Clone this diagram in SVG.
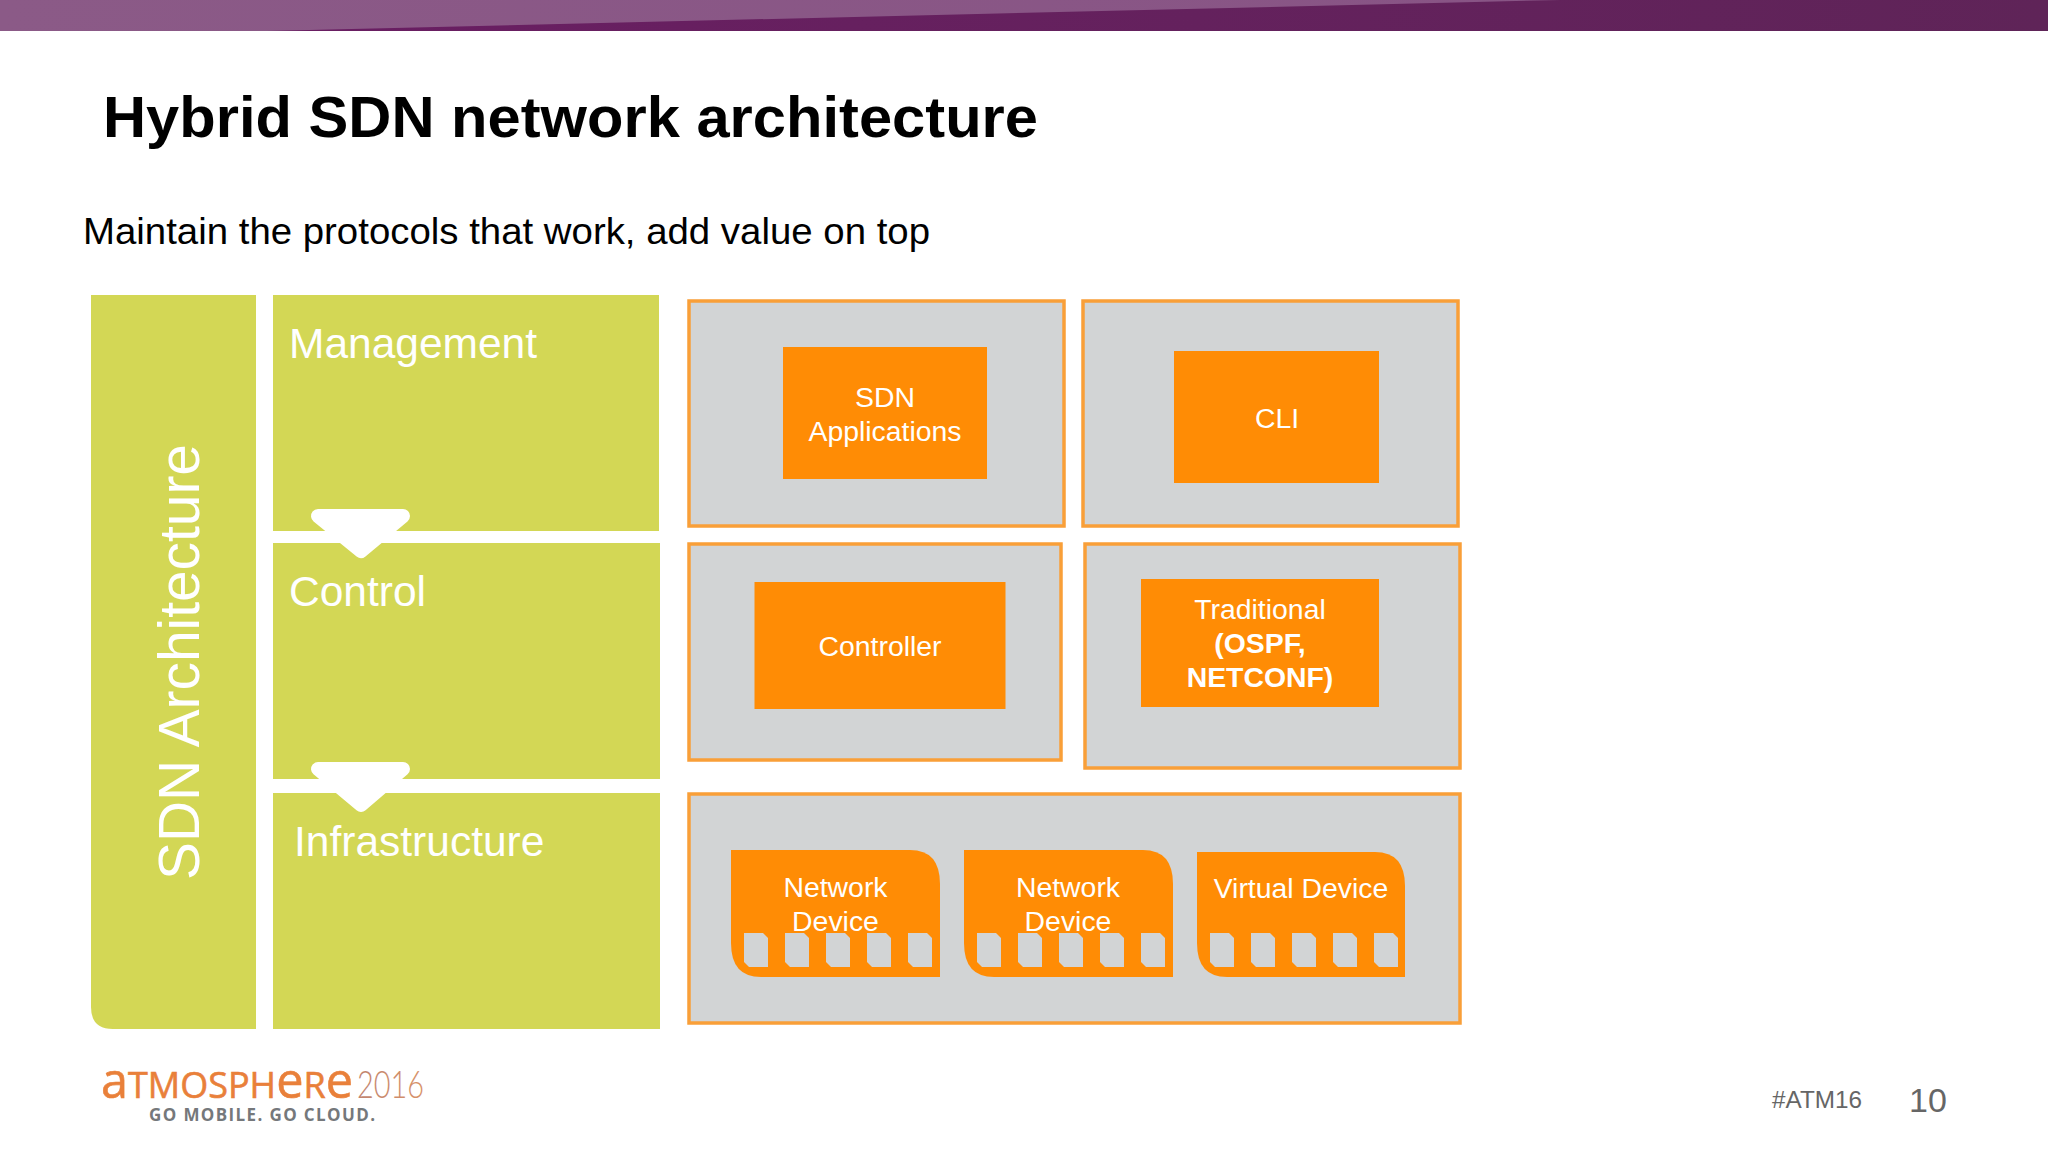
<svg xmlns="http://www.w3.org/2000/svg" width="2048" height="1152" viewBox="0 0 2048 1152">
<style>
text{font-family:"Liberation Sans",Arial,sans-serif}
.layer{fill:#d3d755}
.lt{fill:#fff;font-size:42.500px}
.box{fill:#d2d4d5;stroke:#f99f38;stroke-width:3.500px}
.inner{fill:#ff8c05}
.t{fill:#fff;font-size:28.400px;text-anchor:middle}
.b{font-weight:700}
.port{fill:#d2d4d5}
.arrow{fill:#fff;stroke:#fff;stroke-width:14px;stroke-linejoin:round}
.logo{font-family:"Open Sans","Liberation Sans",sans-serif}
</style>
<defs>
<linearGradient id="barDark" x1="0" x2="1" y1="0" y2="0"><stop offset="0" stop-color="#6b1d64"/><stop offset="1" stop-color="#5f2458"/></linearGradient>
<linearGradient id="barLight" x1="0" x2="1" y1="0" y2="0"><stop offset="0" stop-color="#8b5a87"/><stop offset="1" stop-color="#885485"/></linearGradient>
<linearGradient id="logoYear" x1="0" x2="1" y1="0" y2="0"><stop offset="0" stop-color="#c08470"/><stop offset="1" stop-color="#d89268"/></linearGradient>
<g id="pt"><path class="port" d="M0 0H19L24 5V34H5L0 29Z"/></g>
<path id="dev" d="M0 0H179Q209 0 209 34V127H30Q0 127 0 93Z"/>
</defs>
<rect width="2048" height="1152" fill="#fff"/>
<g id="header">
<rect width="2048" height="31" fill="url(#barDark)"/>
<polygon points="0,0 1560,0 267,31 0,31" fill="url(#barLight)"/>
</g>
<text id="title" x="103" y="137" font-size="58" font-weight="700" fill="#000" textLength="935" lengthAdjust="spacingAndGlyphs">Hybrid SDN network architecture</text>
<text id="subtitle" x="83" y="244" font-size="37.500" fill="#000" textLength="847" lengthAdjust="spacingAndGlyphs">Maintain the protocols that work, add value on top</text>

<g id="sdn-architecture">
<path class="layer" d="M91 295H256V1029H113Q91 1029 91 1007Z"/>
<text transform="translate(199 880) rotate(-90)" font-size="57" fill="#fff" textLength="436" lengthAdjust="spacingAndGlyphs">SDN Architecture</text>
</g>
<g id="management"><rect class="layer" x="273" y="295" width="386" height="236"/><text class="lt" x="289" y="358">Management</text></g>
<g id="control"><rect class="layer" x="273" y="543" width="387" height="236"/><text class="lt" x="289" y="606">Control</text></g>
<g id="infrastructure"><rect class="layer" x="273" y="793" width="387" height="236"/><text class="lt" x="294" y="856">Infrastructure</text></g>
<g id="connectors">
<path class="arrow" d="M318 516H403L361 551Z"/>
<path class="arrow" d="M318 769H403L361 805Z"/>
</g>

<g id="sdn-applications-box"><rect class="box" x="689" y="301" width="375" height="225"/><rect class="inner" x="783" y="347" width="204" height="132"/><text class="t" x="885" y="407">SDN</text><text class="t" x="885" y="441">Applications</text></g>
<g id="cli-box"><rect class="box" x="1083" y="301" width="375" height="225"/><rect class="inner" x="1174" y="351" width="205" height="132"/><text class="t" x="1277" y="428">CLI</text></g>
<g id="controller-box"><rect class="box" x="689" y="544" width="372" height="216"/><rect class="inner" x="754.500" y="582" width="251" height="127"/><text class="t" x="880" y="656">Controller</text></g>
<g id="traditional-box"><rect class="box" x="1085" y="544" width="375" height="224"/><rect class="inner" x="1141" y="579" width="238" height="128"/><text class="t" x="1260" y="619">Traditional</text><text class="t b" x="1260" y="653">(OSPF,</text><text class="t b" x="1260" y="687">NETCONF)</text></g>
<g id="devices-box"><rect class="box" x="689" y="794" width="771" height="229"/></g>

<g id="network-device-1"><use href="#dev" x="731" y="850" class="inner"/><text class="t" x="835.500" y="897">Network</text><text class="t" x="835.500" y="931">Device</text>
<use href="#pt" x="744" y="933"/><use href="#pt" x="785" y="933"/><use href="#pt" x="826" y="933"/><use href="#pt" x="867" y="933"/><use href="#pt" x="908" y="933"/></g>
<g id="network-device-2"><use href="#dev" x="964" y="850" class="inner"/><text class="t" x="1068" y="897">Network</text><text class="t" x="1068" y="931">Device</text>
<use href="#pt" x="977" y="933"/><use href="#pt" x="1018" y="933"/><use href="#pt" x="1059" y="933"/><use href="#pt" x="1100" y="933"/><use href="#pt" x="1141" y="933"/></g>
<g id="virtual-device"><path class="inner" d="M1197 852H1375Q1405 852 1405 886V977H1227Q1197 977 1197 943Z"/><text class="t" x="1301" y="898">Virtual Device</text>
<use href="#pt" x="1210" y="933"/><use href="#pt" x="1251" y="933"/><use href="#pt" x="1292" y="933"/><use href="#pt" x="1333" y="933"/><use href="#pt" x="1374" y="933"/></g>

<g id="logo">
<text class="logo" x="101" y="1098" font-size="37" fill="#e9803a" stroke="#e9803a" stroke-width="0.600" textLength="252" lengthAdjust="spacingAndGlyphs"><tspan font-size="50">a</tspan>TMOSPH<tspan font-size="50">e</tspan>R<tspan font-size="50">e</tspan></text>
<text x="357" y="1098" font-size="38" fill="url(#logoYear)" style="font-family:Lato,'Liberation Sans',sans-serif;font-weight:300" textLength="67" lengthAdjust="spacingAndGlyphs">2016</text>
<text class="logo" x="149" y="1121" font-size="17" font-weight="700" fill="#75787b" textLength="226" lengthAdjust="spacing">GO MOBILE. GO CLOUD.</text>
</g>
<g id="footer">
<text x="1772" y="1108" font-size="23.300" fill="#666" textLength="90" lengthAdjust="spacingAndGlyphs">#ATM16</text>
<text x="1909" y="1112" font-size="34" fill="#666">10</text>
</g>
</svg>
